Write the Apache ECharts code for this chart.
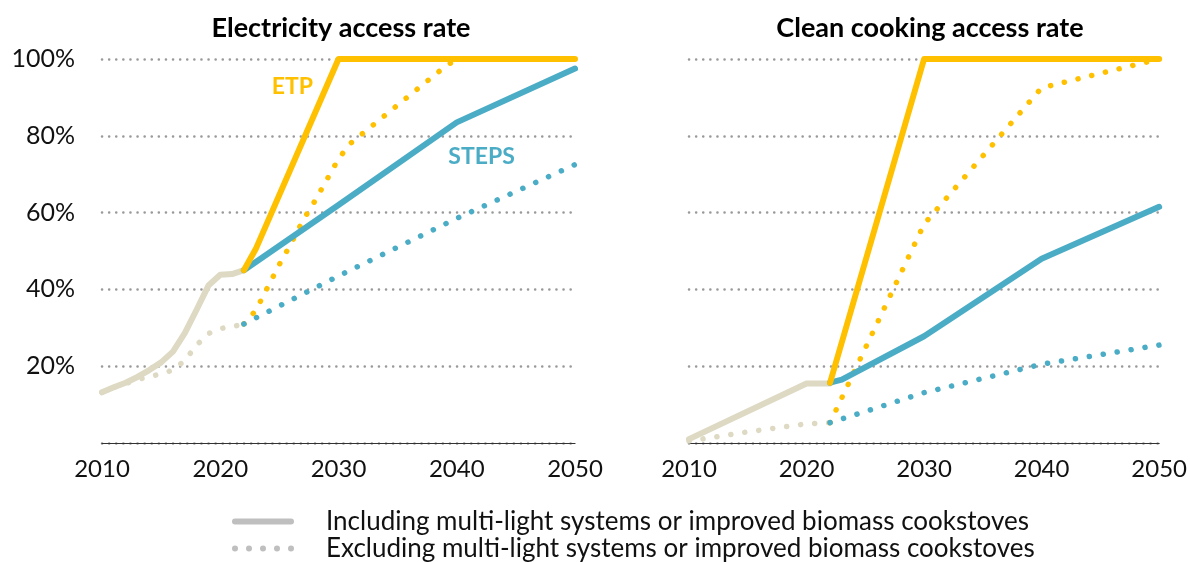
<!DOCTYPE html>
<html>
<head>
<meta charset="utf-8">
<title>Access rates</title>
<script src="https://cdn.jsdelivr.net/npm/echarts@6/dist/echarts.min.js"></script>
<style>
  html, body { margin: 0; padding: 0; background: #fff; }
  #chart { width: 1190px; height: 562px; }
</style>
</head>
<body>
<div id="chart"></div>
<script>
// panel titles / tick labels
const panelTitles = ['Electricity access rate', 'Clean cooking access rate']
const yearTicks = [2010, 2020, 2030, 2040, 2050]
const legendNames = [
  'Including multi-light systems or improved biomass cookstoves',
  'Excluding multi-light systems or improved biomass cookstoves'
]

// electricity access rate (%), [year, value]
const elecHistIncl = [[2010, 13.2], [2011, 14.5], [2012, 15.7], [2013, 17.2], [2014, 19], [2015, 21], [2016, 23.8], [2017, 28.6], [2018, 34.7], [2019, 41], [2020, 43.8], [2021, 44], [2022, 45]]
const elecHistExcl = [[2010, 13.2], [2011, 14.5], [2012, 15.5], [2013, 16.5], [2014, 17.3], [2015, 18], [2016, 19], [2017, 21.5], [2018, 25.5], [2019, 28.5], [2020, 29.8], [2021, 30.3], [2022, 31]]
const elecEtpIncl = [[2022, 45], [2023, 50.5], [2030, 100], [2050, 100]]
const elecEtpExcl = [[2022, 31], [2023, 34.5], [2024, 40.5], [2025, 46.5], [2026, 52], [2027, 58], [2028, 63], [2029, 68.5], [2030, 74], [2031, 78], [2032, 80.5], [2033, 83], [2034, 85.5], [2035, 88], [2036, 90.5], [2037, 93], [2038, 95.5], [2039, 98], [2040, 100], [2050, 100]]
const elecStepsIncl = [[2022, 45], [2030, 62], [2040, 83.5], [2050, 97.5]]
const elecStepsExcl = [[2022, 31], [2030, 43.5], [2040, 58.5], [2050, 72.5]]

// clean cooking access rate (%), [year, value]
const cookHistIncl = [[2010, 1], [2020, 15.5], [2022, 15.5]]
const cookHistExcl = [[2010, 0.5], [2015, 2.9], [2020, 5], [2022, 5.3]]
const cookEtpIncl = [[2022, 15.7], [2030, 100], [2050, 100]]
const cookEtpExcl = [[2022, 5.3], [2030, 57], [2040, 92.5], [2050, 100]]
const cookStepsIncl = [[2022, 15.7], [2023, 16.5], [2030, 27.8], [2040, 48], [2050, 61.5]]
const cookStepsExcl = [[2022, 5.3], [2030, 13.1], [2040, 20.5], [2050, 25.5]]

// scenario name labels, placed in data space
const etpLabelAt = [2026.1, 92.7]
const stepsLabelAt = [2042.1, 74.7]

const FONT = 'Lato'
const YELLOW = '#FFC000'
const BLUE = '#4BACC6'
const TAN = '#DDD9C3'
const GREY = '#BFBFBF'

function line(data, color, dotted, idx, z) {
  return {
    type: 'line',
    xAxisIndex: idx,
    yAxisIndex: idx,
    data: data,
    symbol: 'none',
    silent: true,
    z: z,
    lineStyle: dotted
      ? { color: color, width: 5.5, type: [0.1, 14], cap: 'round' }
      : { color: color, width: 6, cap: 'round', join: 'round' }
  }
}

function tag(text, at, color) {
  return {
    symbol: 'circle',
    symbolSize: 0,
    data: [{ coord: at }],
    label: {
      show: true,
      position: 'inside',
      formatter: text,
      color: color,
      fontFamily: FONT,
      fontWeight: 'bold',
      fontSize: 23
    }
  }
}

const xAxisBase = (idx) => ({
  type: 'value',
  gridIndex: idx,
  min: 2010,
  max: 2050,
  interval: 10,
  axisLine: { show: true, lineStyle: { color: '#333', width: 1.2 } },
  axisTick: { show: false },
  splitLine: { show: false },
  axisLabel: {
    margin: 14,
    fontFamily: FONT,
    fontSize: 24,
    color: '#111',
    formatter: (v) => yearTicks.includes(v) ? String(v) : ''
  }
})

const yAxisBase = (idx) => ({
  type: 'value',
  gridIndex: idx,
  min: 0,
  max: 100,
  interval: 20,
  axisLine: { show: false },
  axisTick: { show: false },
  splitLine: {
    show: true,
    lineStyle: { color: '#999', width: 2.5, type: [0.1, 7], cap: 'round' }
  },
  axisLabel: {
    show: idx === 0,
    margin: 27,
    fontFamily: FONT,
    fontSize: 25,
    color: '#111',
    formatter: (v) => v === 0 ? '' : v + '%'
  }
})

const etpSolidLeft = line(elecEtpIncl, YELLOW, false, 0, 6)
etpSolidLeft.markPoint = tag('ETP', etpLabelAt, YELLOW)
const stepsSolidLeft = line(elecStepsIncl, BLUE, false, 0, 5)
stepsSolidLeft.markPoint = tag('STEPS', stepsLabelAt, BLUE)

const titleStyle = { fontFamily: FONT, fontWeight: 'bold', fontSize: 27, color: '#000' }

const option = {
  animation: false,
  backgroundColor: '#fff',
  title: [
    { text: panelTitles[0], left: 336, top: 10, textAlign: 'center', textStyle: titleStyle },
    { text: panelTitles[1], left: 925, top: 10, textAlign: 'center', textStyle: titleStyle }
  ],
  legend: {
    orient: 'vertical',
    left: 232,
    top: 508,
    height: 70,
    padding: 0,
    itemWidth: 62,
    itemHeight: 6,
    itemGap: 0,
    selectedMode: false,
    textStyle: { fontFamily: FONT, fontSize: 26, lineHeight: 27, color: '#111', padding: [0, 0, 0, 27] },
    data: [
      { name: legendNames[0], icon: 'path://M3,0H59A3,3 0 0 1 59,6H3A3,3 0 0 1 3,0Z', itemStyle: { color: GREY } },
      { name: legendNames[1], icon: 'path://M0,3a3,3 0 1,0 6,0a3,3 0 1,0 -6,0ZM14,3a3,3 0 1,0 6,0a3,3 0 1,0 -6,0ZM28,3a3,3 0 1,0 6,0a3,3 0 1,0 -6,0ZM42,3a3,3 0 1,0 6,0a3,3 0 1,0 -6,0ZM56,3a3,3 0 1,0 6,0a3,3 0 1,0 -6,0Z', itemStyle: { color: GREY } }
    ]
  },
  grid: [
    { left: 102, width: 473, top: 59, bottom: 119 },
    { left: 689, width: 474, top: 59, bottom: 119 }
  ],
  xAxis: [xAxisBase(0), xAxisBase(1)],
  yAxis: [yAxisBase(0), yAxisBase(1)],
  series: [
    // legend-only entries
    { type: 'line', name: legendNames[0], data: [], xAxisIndex: 0, yAxisIndex: 0 },
    { type: 'line', name: legendNames[1], data: [], xAxisIndex: 0, yAxisIndex: 0 },
    // electricity
    line(elecHistExcl, TAN, true, 0, 2),
    line(elecHistIncl, TAN, false, 0, 2),
    line(elecEtpExcl, YELLOW, true, 0, 3),
    line(elecStepsExcl, BLUE, true, 0, 3),
    stepsSolidLeft,
    etpSolidLeft,
    // clean cooking
    line(cookHistExcl, TAN, true, 1, 2),
    line(cookHistIncl, TAN, false, 1, 2),
    line(cookEtpExcl, YELLOW, true, 1, 3),
    line(cookStepsExcl, BLUE, true, 1, 3),
    line(cookStepsIncl, BLUE, false, 1, 5),
    line(cookEtpIncl, YELLOW, false, 1, 6)
  ]
}

const chartDom = echarts.init(document.getElementById('chart'))
chartDom.setOption(option)
</script>
</body>
</html>
